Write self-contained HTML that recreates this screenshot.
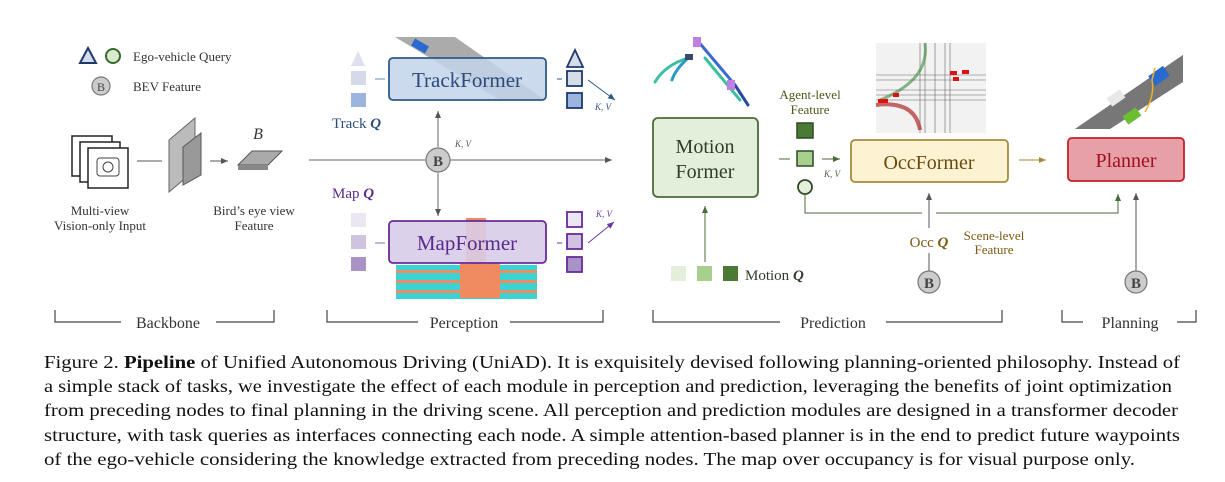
<!DOCTYPE html>
<html><head><meta charset="utf-8"><style>
html,body{margin:0;padding:0;background:#fff}
svg{display:block}
text{font-family:"Liberation Serif",serif}
</style></head><body>
<svg width="1225" height="482" viewBox="0 0 1225 482" xmlns="http://www.w3.org/2000/svg">
<defs>
<marker id="a" markerWidth="8" markerHeight="8" refX="7" refY="4" orient="auto" markerUnits="userSpaceOnUse"><path d="M0,1 L7,4 L0,7 z" fill="#555"/></marker>
<marker id="ab" markerWidth="8" markerHeight="8" refX="7" refY="4" orient="auto" markerUnits="userSpaceOnUse"><path d="M0,1 L7,4 L0,7 z" fill="#2c5a8a"/></marker>
<marker id="ap" markerWidth="8" markerHeight="8" refX="7" refY="4" orient="auto" markerUnits="userSpaceOnUse"><path d="M0,1 L7,4 L0,7 z" fill="#6a3aa0"/></marker>
<marker id="ag" markerWidth="8" markerHeight="8" refX="7" refY="4" orient="auto" markerUnits="userSpaceOnUse"><path d="M0,1 L7,4 L0,7 z" fill="#4a6b3a"/></marker>
<marker id="ao" markerWidth="8" markerHeight="8" refX="7" refY="4" orient="auto" markerUnits="userSpaceOnUse"><path d="M0,1 L7,4 L0,7 z" fill="#a88a3a"/></marker>
</defs>

<!-- legend -->
<polygon points="80,63 88,48 96,63" fill="#d5dbe8" stroke="#1f3a6a" stroke-width="2"/>
<circle cx="113" cy="56" r="7" fill="#d9ead0" stroke="#3a6a2a" stroke-width="2"/>
<text x="133" y="61" font-size="13" fill="#333">Ego-vehicle Query</text>
<circle cx="101" cy="86" r="9" fill="#ccc" stroke="#777" stroke-width="1.2"/>
<text x="101" y="91" font-size="12" text-anchor="middle" fill="#444">B</text>
<text x="133" y="91" font-size="13" fill="#333">BEV Feature</text>

<!-- camera stack -->
<rect x="72" y="136" width="40" height="40" fill="#fff" stroke="#222" stroke-width="1.5"/>
<rect x="80" y="142" width="40" height="40" fill="#fff" stroke="#222" stroke-width="1.5"/>
<rect x="88" y="148" width="40" height="40" fill="#fff" stroke="#222" stroke-width="1.5"/>
<rect x="97" y="158" width="22" height="18" rx="3" fill="none" stroke="#444" stroke-width="1"/>
<circle cx="108" cy="167" r="5" fill="none" stroke="#444"/>
<line x1="137" y1="161" x2="162" y2="161" stroke="#555"/>
<polygon points="169,140 195,118 195,170 169,192" fill="#bbb" stroke="#666"/>
<polygon points="183,147 201,133 201,175 183,185" fill="#999" stroke="#555"/>
<line x1="210" y1="161" x2="228" y2="161" stroke="#555" marker-end="url(#a)"/>
<polygon points="238,165 252,151 282,151 268,165" fill="#aaa" stroke="#555"/>
<polygon points="238,165 268,165 268,170 238,170" fill="#888"/>
<text x="258" y="139" font-size="16" font-style="italic" text-anchor="middle" fill="#333">B</text>
<text x="100" y="215" font-size="13" text-anchor="middle" fill="#333">Multi-view</text>
<text x="100" y="230" font-size="13" text-anchor="middle" fill="#333">Vision-only Input</text>
<text x="254" y="215" font-size="13" text-anchor="middle" fill="#333">Bird’s eye view</text>
<text x="254" y="230" font-size="13" text-anchor="middle" fill="#333">Feature</text>

<!-- main line -->
<line x1="309" y1="160" x2="612" y2="160" stroke="#666" marker-end="url(#a)"/>
<line x1="438" y1="147" x2="438" y2="111" stroke="#666" marker-end="url(#a)"/>
<line x1="438" y1="173" x2="438" y2="216" stroke="#666" marker-end="url(#a)"/>
<circle cx="438" cy="160" r="12" fill="#ccc" stroke="#777" stroke-width="1.2"/>
<text x="438" y="166" font-size="15" font-weight="bold" text-anchor="middle" fill="#444">B</text>
<text x="455" y="147" font-size="9" font-style="italic" fill="#555">K, V</text>

<!-- track image -->
<polygon points="395,37 455,37 545,100 500,100" fill="#888" opacity="0.7"/>
<rect x="412" y="42" width="16" height="8" fill="#2a6ad0" transform="rotate(30 420 46)"/>
<!-- TrackFormer -->
<rect x="389" y="58" width="157" height="42" rx="4" fill="#c2d3ea" fill-opacity="0.85" stroke="#2c5a8a" stroke-width="1.8"/>
<text x="467" y="87" font-size="21" text-anchor="middle" fill="#2c4a7a">TrackFormer</text>
<polygon points="351,66 358,51 365,66" fill="#dde0ee"/>
<rect x="351" y="71" width="15" height="14" fill="#d5d9ea"/>
<rect x="351" y="93" width="15" height="14" fill="#9bb5e0"/>
<line x1="375" y1="79" x2="385" y2="79" stroke="#6a8ab0"/>
<line x1="557" y1="79" x2="562" y2="79" stroke="#2c5a8a"/>
<polygon points="567,67 575,50 583,67" fill="#d5dbe8" stroke="#1f3a6a" stroke-width="1.8"/>
<rect x="567" y="71" width="15" height="15" fill="#d5dbe8" stroke="#1f3a6a" stroke-width="1.8"/>
<rect x="567" y="93" width="15" height="15" fill="#9bb5e0" stroke="#1f3a6a" stroke-width="1.8"/>
<line x1="588" y1="80" x2="615" y2="100" stroke="#2c5a8a" marker-end="url(#ab)"/>
<text x="595" y="110" font-size="9" font-style="italic" fill="#2c5a8a">K, V</text>
<text x="332" y="128" font-size="15" fill="#2b4d7a">Track <tspan font-style="italic" font-weight="bold">Q</tspan></text>

<!-- map -->
<text x="332" y="198" font-size="15" fill="#5b2a8a">Map <tspan font-style="italic" font-weight="bold">Q</tspan></text>
<g>
<rect x="396" y="265" width="141" height="34" fill="#3ad4d4"/>
<rect x="396" y="270" width="141" height="3" fill="#f08a60"/>
<rect x="396" y="280" width="141" height="3" fill="#f08a60"/>
<rect x="396" y="290" width="141" height="3" fill="#f08a60"/>
<rect x="466" y="218" width="20" height="80" fill="#f08a60"/>
<rect x="460" y="262" width="40" height="36" fill="#f08a60"/>
</g>
<rect x="389" y="221" width="157" height="42" rx="4" fill="#d8cce8" fill-opacity="0.9" stroke="#6a2a9a" stroke-width="1.8"/>
<text x="467" y="250" font-size="21" text-anchor="middle" fill="#5a2a8a">MapFormer</text>
<rect x="351" y="213" width="15" height="14" fill="#eae6f2"/>
<rect x="351" y="235" width="15" height="14" fill="#cfc3e0"/>
<rect x="351" y="257" width="15" height="14" fill="#a893c6"/>
<line x1="375" y1="243" x2="385" y2="243" stroke="#8a6ab0"/>
<line x1="557" y1="243" x2="562" y2="243" stroke="#6a3aa0"/>
<rect x="567" y="212" width="15" height="15" fill="#eae6f2" stroke="#6a2a9a" stroke-width="1.8"/>
<rect x="567" y="234" width="15" height="15" fill="#cfc3e0" stroke="#6a2a9a" stroke-width="1.8"/>
<rect x="567" y="257" width="15" height="15" fill="#a893c6" stroke="#6a2a9a" stroke-width="1.8"/>
<line x1="588" y1="243" x2="614" y2="222" stroke="#6a3aa0" marker-end="url(#ap)"/>
<text x="596" y="217" font-size="9" font-style="italic" fill="#6a3aa0">K, V</text>

<!-- motion trajectories -->
<g stroke-width="3" fill="none" stroke-linecap="round">
<path d="M697,40 L735,85" stroke="#3a6ad0"/>
<path d="M705,58 L740,100" stroke="#3ac0a0"/>
<path d="M688,58 Q665,65 655,82" stroke="#3ac0a0"/>
<path d="M688,58 Q675,70 672,80" stroke="#2a9ac0"/>
<path d="M735,85 L748,105" stroke="#2a4aa0"/>
<rect x="693" y="37" width="8" height="10" fill="#c080e0" stroke="none"/>
<rect x="727" y="80" width="8" height="10" fill="#c080e0" stroke="none"/>
<rect x="685" y="54" width="8" height="6" fill="#3a4a6a" stroke="none"/>
</g>
<!-- MotionFormer -->
<rect x="653" y="118" width="105" height="79" rx="5" fill="#e3eedb" stroke="#4a6b3a" stroke-width="1.8"/>
<text x="705" y="153" font-size="20" text-anchor="middle" fill="#2e3e2a">Motion</text>
<text x="705" y="178" font-size="20" text-anchor="middle" fill="#2e3e2a">Former</text>
<text x="810" y="99" font-size="13" text-anchor="middle" fill="#4a5a1a">Agent-level</text>
<text x="810" y="114" font-size="13" text-anchor="middle" fill="#4a5a1a">Feature</text>
<rect x="797" y="123" width="16" height="15" fill="#4a7a34" stroke="#2e4a22" stroke-width="1.5"/>
<rect x="797" y="151" width="16" height="15" fill="#a8d08d" stroke="#2e4a22" stroke-width="1.5"/>
<circle cx="805" cy="187" r="7" fill="#e3eedb" stroke="#2e4a22" stroke-width="1.8"/>
<line x1="779" y1="159" x2="790" y2="159" stroke="#4a6b3a"/>
<line x1="822" y1="159" x2="840" y2="159" stroke="#4a6b3a" marker-end="url(#ag)"/>
<text x="824" y="177" font-size="9" font-style="italic" fill="#4a5a3a">K, V</text>
<!-- motion Q -->
<rect x="671" y="266" width="15" height="15" fill="#e3eedb"/>
<rect x="697" y="266" width="15" height="15" fill="#a8d08d"/>
<rect x="723" y="266" width="15" height="15" fill="#4a7a34"/>
<text x="745" y="280" font-size="15" fill="#2e3e2a">Motion <tspan font-style="italic" font-weight="bold">Q</tspan></text>
<line x1="705" y1="262" x2="705" y2="206" stroke="#4a6b3a" marker-end="url(#ag)"/>

<!-- occupancy image -->
<rect x="876" y="43" width="110" height="90" fill="#f2f2f2"/>
<g stroke="#666" stroke-width="0.6" fill="none">
<path d="M876,75 L986,75 M876,80 L986,80 M876,90 L986,90 M876,95 L986,95 M876,100 L986,100"/>
<path d="M920,43 L920,133 M925,43 L925,133 M935,43 L935,133 M945,43 L945,133 M950,43 L950,133"/>
</g>
<path d="M876,105 Q915,100 920,130" stroke="#b02a2a" stroke-width="4" fill="none" opacity="0.7"/>
<path d="M925,43 Q930,80 880,100" stroke="#3a8a3a" stroke-width="3" fill="none" opacity="0.6"/>
<rect x="950" y="71" width="7" height="4" fill="#e01010"/><rect x="962" y="70" width="7" height="4" fill="#e01010"/><rect x="953" y="77" width="6" height="4" fill="#e01010"/>
<rect x="878" y="99" width="10" height="4" fill="#e01010"/><rect x="893" y="93" width="6" height="4" fill="#e01010"/>
<!-- OccFormer -->
<rect x="851" y="140" width="157" height="42" rx="4" fill="#fdf3d3" stroke="#a88a3a" stroke-width="1.8"/>
<text x="929" y="169" font-size="20" text-anchor="middle" fill="#6a4a10">OccFormer</text>
<line x1="1019" y1="160" x2="1046" y2="160" stroke="#a88a3a" marker-end="url(#ao)"/>

<!-- road image planning -->
<polygon points="1075,129 1102,129 1183,60 1183,55" fill="#666"/>
<polygon points="1075,129 1183,55 1183,82 1110,129" fill="#777"/>
<rect x="1150" y="70" width="18" height="12" fill="#2a6ad0" transform="rotate(-35 1159 76)"/>
<rect x="1108" y="93" width="16" height="10" fill="#e8e8e8" transform="rotate(-35 1116 98)"/>
<rect x="1124" y="111" width="16" height="10" fill="#6ac030" transform="rotate(-35 1132 116)"/>
<path d="M1145,112 Q1155,95 1152,80 L1155,68" stroke="#f0b020" stroke-width="1.5" fill="none"/>
<!-- Planner -->
<rect x="1068" y="138" width="116" height="43" rx="4" fill="#e8a0a8" stroke="#c0202a" stroke-width="1.8"/>
<text x="1126" y="167" font-size="20" text-anchor="middle" fill="#a01020">Planner</text>

<!-- feedback -->
<polyline points="805,195 805,213 922,213" fill="none" stroke="#4a6b3a"/>
<polyline points="936,213 1118,213 1118,194" fill="none" stroke="#4a6b3a" marker-end="url(#ag)"/>
<line x1="929" y1="228" x2="929" y2="193" stroke="#555" marker-end="url(#a)"/>
<line x1="929" y1="253" x2="929" y2="271" stroke="#555"/>
<text x="929" y="247" font-size="15" text-anchor="middle" fill="#7a5a10">Occ <tspan font-style="italic" font-weight="bold">Q</tspan></text>
<text x="994" y="240" font-size="13" text-anchor="middle" fill="#7a5a10">Scene-level</text>
<text x="994" y="254" font-size="13" text-anchor="middle" fill="#7a5a10">Feature</text>
<circle cx="929" cy="282" r="11" fill="#ccc" stroke="#777" stroke-width="1.2"/>
<text x="929" y="288" font-size="15" font-weight="bold" text-anchor="middle" fill="#444">B</text>
<line x1="1136" y1="271" x2="1136" y2="193" stroke="#555" marker-end="url(#a)"/>
<circle cx="1136" cy="282" r="11" fill="#ccc" stroke="#777" stroke-width="1.2"/>
<text x="1136" y="288" font-size="15" font-weight="bold" text-anchor="middle" fill="#444">B</text>

<!-- brackets -->
<g stroke="#444" stroke-width="1.2" fill="none">
<polyline points="55,310 55,322 121,322"/><polyline points="216,322 274,322 274,310"/>
<polyline points="327,310 327,322 418,322"/><polyline points="510,322 603,322 603,310"/>
<polyline points="653,310 653,322 780,322"/><polyline points="886,322 1002,322 1002,310"/>
<polyline points="1062,310 1062,322 1083,322"/><polyline points="1177,322 1196,322 1196,310"/>
</g>
<g font-size="16" text-anchor="middle" fill="#333">
<text x="168" y="328">Backbone</text>
<text x="464" y="328">Perception</text>
<text x="833" y="328">Prediction</text>
<text x="1130" y="328">Planning</text>
</g>

<!-- caption -->
<g font-size="17.5" fill="#111">
<text x="44" y="368" textLength="1136" lengthAdjust="spacingAndGlyphs">Figure 2. <tspan font-weight="bold">Pipeline</tspan> of Unified Autonomous Driving (UniAD). It is exquisitely devised following planning-oriented philosophy. Instead of</text>
<text x="44" y="392" textLength="1128" lengthAdjust="spacingAndGlyphs">a simple stack of tasks, we investigate the effect of each module in perception and prediction, leveraging the benefits of joint optimization</text>
<text x="44" y="416" textLength="1134" lengthAdjust="spacingAndGlyphs">from preceding nodes to final planning in the driving scene. All perception and prediction modules are designed in a transformer decoder</text>
<text x="44" y="441" textLength="1136" lengthAdjust="spacingAndGlyphs">structure, with task queries as interfaces connecting each node. A simple attention-based planner is in the end to predict future waypoints</text>
<text x="44" y="465" textLength="1091" lengthAdjust="spacingAndGlyphs">of the ego-vehicle considering the knowledge extracted from preceding nodes. The map over occupancy is for visual purpose only.</text>
</g>
</svg>
</body></html>
